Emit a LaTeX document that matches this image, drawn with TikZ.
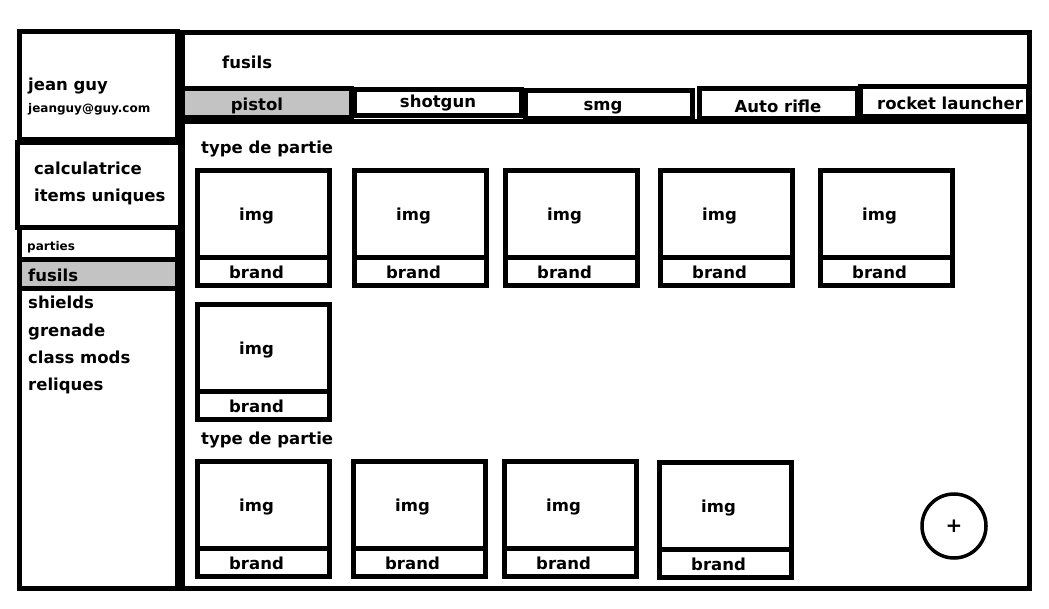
\documentclass[tikz,border=0pt]{standalone}
\usepackage{fontspec}
\setmainfont{DejaVu Sans}
\usetikzlibrary{fit}
\definecolor{tabgrey}{RGB}{195,195,195}
\tikzset{
  wire/.style={draw, line width=5pt, inner sep=0pt, outer sep=0pt},
  lbl/.style={inner sep=0pt, font=\bfseries\fontsize{16.5}{18}\selectfont},
  small/.style={inner sep=0pt, font=\bfseries\fontsize{12}{14}\selectfont},
  addbtn/.style={draw, circle, line width=3.5pt, minimum size=64pt, inner sep=0pt, font=\bfseries\fontsize{20}{22}\selectfont},
}
\newcommand{\uicard}[3]{%
  \node[wire, fit={(#2,#3) (#2+132,#3+87)}] (#1img) {};
  \node[lbl, anchor=mid] (#1imgl) at ([shift={(-7,4)}]#1img.center) {img};
  \node[wire, fit={(#2,#3+87) (#2+132,#3+115)}] (#1br) {};
  \node[lbl, anchor=mid] (#1brl) at ([shift={(-7,4)}]#1br.center) {brand};
}
\begin{document}
\begin{tikzpicture}[x=1pt,y=-1pt]
\useasboundingbox[fill=white] (0,0) rectangle (1049,609);
% left column
\node[wire, fit={(19.5,32) (177.5,588)}] (side) {};
\node[wire, fit={(19.5,32) (177.5,139.5)}] (profile) {};
\node[lbl, anchor=mid west] (name) at (28,88) {jean guy};
\node[small, anchor=mid west] (mail) at (28,110) {jeanguy@guy.com};
\node[wire, fill=white, fit={(17,143) (180,228)}] (calc) {};
\node[lbl, anchor=mid west] (calcl) at (34,172) {calculatrice};
\node[lbl, anchor=mid west] (uniq) at (34,199) {items uniques};
\node[small, anchor=mid west] (parties) at (27,248) {parties};
\node[wire, fill=tabgrey, fit={(19.5,260) (177.5,289)}] (fusilsel) {};
\node[lbl, anchor=mid west] (fusilsl) at (28,279) {fusils};
\node[lbl, anchor=mid west] (shields) at (28,306) {shields};
\node[lbl, anchor=mid west] (grenade) at (28,334) {grenade};
\node[lbl, anchor=mid west] (classmods) at (28,361) {class mods};
\node[lbl, anchor=mid west] (reliques) at (28,388) {reliques};
% main area
\node[wire, fit={(182.5,33) (1029.5,588)}] (main) {};
\node[wire, fit={(182.5,121.5) (1029.5,588)}] (body) {};
\node[lbl, anchor=mid west] (title) at (222,66) {fusils};
% tabs
\node[wire, fill=tabgrey, fit={(182.5,88.5) (351,118)}] (pistol) {};
\node[lbl, anchor=mid] (pistoll) at (257,108) {pistol};
\node[wire, fit={(354,90) (521.5,116)}] (shotgun) {};
\node[lbl, anchor=mid] (shotgunl) at (438,105) {shotgun};
\node[wire, fit={(525.5,91) (692,119)}] (smg) {};
\node[lbl, anchor=mid] (smgl) at (603,108) {smg};
\node[wire, fit={(699,88.5) (857,119)}] (auto) {};
\node[lbl, anchor=mid] (autol) at (778,110) {Auto rifle};
\node[wire, fit={(860,87) (1028,117)}] (rocket) {};
\node[lbl, anchor=mid] (rocketl) at (950,107) {rocket launcher};
% section 1
\node[lbl, anchor=mid west] (sec1) at (201,151) {type de partie};
\uicard{a}{197.5}{170.5}
\uicard{b}{354.5}{170.5}
\uicard{c}{505.5}{170.5}
\uicard{d}{660.5}{170.5}
\uicard{e}{820.5}{170.5}
\uicard{f}{197.5}{304.5}
% section 2
\node[lbl, anchor=mid west] (sec2) at (201,442) {type de partie};
\uicard{g}{197.5}{461.5}
\uicard{h}{353.5}{461.5}
\uicard{i}{504.5}{461.5}
\uicard{j}{659.5}{462.5}
% add button
\node[addbtn] (add) at (954,526) {+};
\end{tikzpicture}
\end{document}
